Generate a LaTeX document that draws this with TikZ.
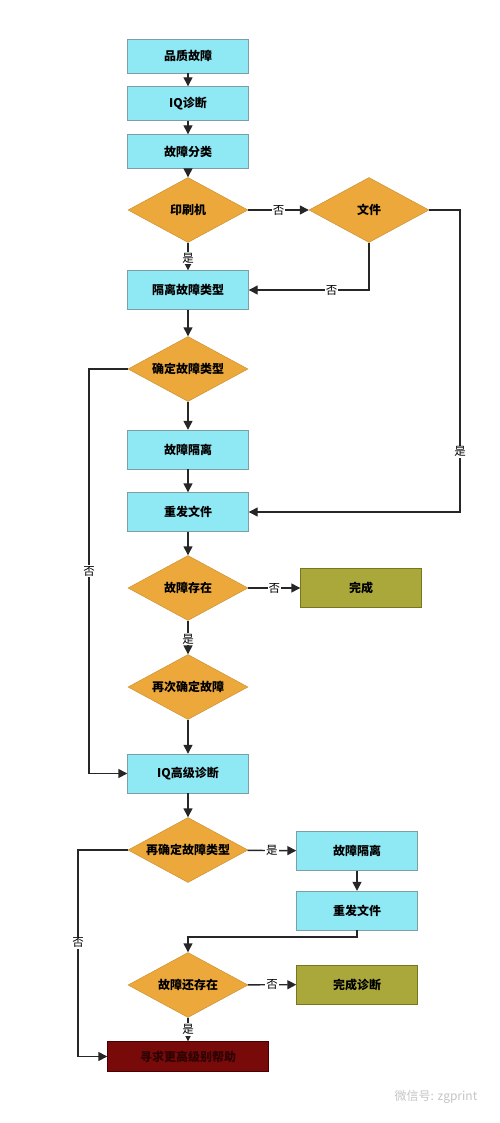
\documentclass[tikz,border=0pt]{standalone}
\usepackage{fontspec}
\setmainfont{Noto Sans CJK SC}
\usepackage{tikz}
\usetikzlibrary{arrows.meta, shapes.geometric, calc}

\definecolor{CyanFill}{HTML}{8FE9F5}
\definecolor{CyanLine}{HTML}{7C9EA4}
\definecolor{OrangeFill}{HTML}{EDA83B}
\definecolor{OrangeLine}{HTML}{C48A2A}
\definecolor{OliveFill}{HTML}{AAA83A}
\definecolor{OliveLine}{HTML}{76761E}
\definecolor{RedFill}{HTML}{780A0A}
\definecolor{RedLine}{HTML}{4A0000}
\definecolor{RedText}{HTML}{2E0202}
\definecolor{MarkGray}{HTML}{C4C4C4}

% Diamond text of zero width, so every diamond keeps one size
\newcommand{\dtx}[1]{\makebox[0pt]{#1}}

\begin{document}
\begin{tikzpicture}[x=1pt, y=-1pt]

% Page frame
\useasboundingbox (0,0) rectangle (500,1123);

% Node styles
\tikzset{bS/.style={draw = CyanLine, fill = CyanFill, minimum width = 121pt, minimum height = 39pt, inner sep = 1pt, font = \bfseries\fontsize{12}{14}\selectfont}}
\tikzset{tbS/.style={bS, minimum height = 34pt}}
\tikzset{eS/.style={bS, draw = OliveLine, fill = OliveFill}}
\tikzset{hS/.style={bS, draw = RedLine, fill = RedFill, text = RedText, minimum width = 161pt, minimum height = 30pt}}
\tikzset{dS/.style={draw = OrangeLine, fill = OrangeFill, shape = diamond, minimum width = 120pt, minimum height = 65pt, inner sep = 0pt, font = \bfseries\fontsize{12}{14}\selectfont}}

% Connector styles
\tikzset{flow/.style={black!85, line width = 1.4pt, -{Triangle[length = 9pt, width = 9pt]}}}
\tikzset{lab/.style={fill = white, inner sep = 1pt, text = black, font = \fontsize{11.5}{13}\selectfont}}

% First diagnosis
\node (q1) [tbS] at (188, 56) {品质故障};
\node (q2) [tbS] at (188, 103.5) {IQ诊断};
\node (q3) [tbS] at (188, 151.5) {故障分类};

\node (d1) [dS] at (188, 210) {\dtx{印刷机}};
\node (d2) [dS] at (369, 210) {\dtx{文件}};

\node (b4) [bS] at (188, 290) {隔离故障类型};
\node (d3) [dS] at (188, 369) {\dtx{确定故障类型}};
\node (b5) [bS] at (188, 449.5) {故障隔离};
\node (b6) [bS] at (188, 512) {重发文件};

\node (d4) [dS] at (188, 588) {\dtx{故障存在}};
\node (e1) [eS] at (361, 588) {完成};
\node (d5) [dS] at (188, 687) {\dtx{再次确定故障}};

% Advanced diagnosis
\node (b7) [bS] at (188, 773.5) {IQ高级诊断};
\node (d6) [dS] at (188, 850) {\dtx{再确定故障类型}};
\node (b8) [bS] at (357, 851) {故障隔离};
\node (b9) [bS] at (357, 910.5) {重发文件};

\node (d7) [dS] at (188, 985) {\dtx{故障还存在}};
\node (e2) [eS] at (357, 984.5) {完成诊断};
\node (b10) [hS] at (188, 1056.5) {寻求更高级别帮助};

% Turning points
\coordinate (r1) at (460, 210);
\coordinate (l1) at (89, 369);
\coordinate (l2) at (78, 850);
\coordinate (j1) at (357, 937);

% Connectors
\draw[flow] (q1) -- (q2);
\draw[flow] (q2) -- (q3);
\draw[flow] (q3) -- (d1);

\draw[flow] (d1) -- node [lab] {否} (d2);
\draw[flow] (d1) -- node [lab, pos = 0.55] {是} (b4);
\draw[flow] (d2.south) |- node [lab, pos = 0.655] {否} (b4.east);
\draw[flow] (d2.east) -- (r1) |- node [lab, pos = 0.4] {是} (b6.east);

\draw[flow] (b4) -- (d3);
\draw[flow] (d3) -- (b5);
\draw[flow] (b5) -- (b6);
\draw[flow] (d3.west) -- (l1) |- node [lab, pos = 0.25] {否} (b7.west);

\draw[flow] (b6) -- (d4);
\draw[flow] (d4) -- node [lab] {否} (e1);
\draw[flow] (d4) -- node [lab, pos = 0.55] {是} (d5);
\draw[flow] (d5) -- (b7);

\draw[flow] (b7) -- (d6);
\draw[flow] (d6) -- node [lab] {是} (b8);
\draw[flow] (b8) -- (b9);
\draw[flow] (b9.south) -- (j1) -| (d7.north);
\draw[flow] (d7) -- node [lab] {否} (e2);
\draw[flow] (d7) -- node [lab, pos = 0.5] {是} (b10);
\draw[flow] (d6.west) -- (l2) |- node [lab, pos = 0.225] {否} (b10.west);

% Watermark
\node (wm) [text = MarkGray, font = \fontsize{12}{14}\selectfont] at (436, 1097) {微信号: zgprint};

\end{tikzpicture}
\end{document}
